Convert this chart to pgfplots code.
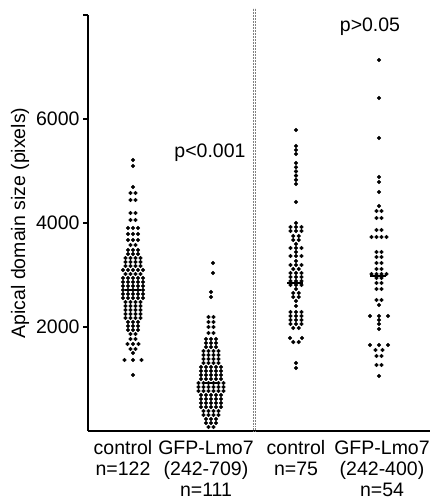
\documentclass[border=0pt]{standalone}
\usepackage{pgfplots}
\pgfplotsset{compat=1.18}
\usepackage{fontspec}
\setmainfont{Liberation Sans}
\newcommand\ff{\fontsize{19.5}{23.5}\selectfont}

\begin{document}
\begin{tikzpicture}
\useasboundingbox (-88pt,-71pt) rectangle (344pt,431pt);
\begin{axis}[
  scale only axis, width=342pt, height=416pt,
  xmin=88, xmax=430, ymin=0, ymax=8000,
  axis x line*=bottom, axis y line*=left,
  axis line style={line width=1.8pt},
  clip=false,
  xtick={123,206,296,382},
  xticklabels={{control\\n=122},{GFP-Lmo7\\(242-709)\\n=111},{control\\n=75},{GFP-Lmo7\\(242-400)\\n=54}},
  x tick style={draw=none},
  ytick={2000,4000,6000,8000},
  yticklabels={2000,4000,6000,{}},
  y tick style={line width=1.5pt,black},
  tick align=outside,
  major tick length=5pt,
  tick label style={font=\ff},
  x tick label style={align=center,yshift=-1pt,font=\fontsize{19.5}{21}\selectfont},
  label style={font=\ff},
  ylabel={Apical domain size (pixels)},
]
% separator
\draw[densely dotted,gray,line width=0.5pt] (axis cs:253.5,0) -- (axis cs:253.5,8135);
\draw[densely dotted,gray,line width=0.5pt] (axis cs:255.5,0) -- (axis cs:255.5,8135);

% control n=122
\addplot[only marks,mark=*,mark size=1.9pt,black] coordinates {
(133,5211) (133,5096) (133,4692)
(130.5,4577) (135.5,4577) (130.5,4442) (135.5,4442)
(130.5,4192) (135.5,4192) (130.5,4058) (135.5,4058)
(128,3904) (133,3904) (138,3904)
(128,3788) (133,3788) (138,3788)
(128,3673) (133,3673) (138,3673)
(130.5,3577) (135.5,3577)
(128,3481) (133,3481) (138,3481)
(128,3404) (133,3404) (138,3404)
(125.5,3327) (130.5,3327) (135.5,3327) (140.5,3327)
(125.5,3250) (130.5,3250) (135.5,3250) (140.5,3250)
(125.5,3173) (130.5,3173) (135.5,3173) (140.5,3173)
(123,3096) (128,3096) (133,3096) (138,3096) (143,3096)
(125.5,3019) (130.5,3019) (135.5,3019) (140.5,3019)
(123,2942) (128,2942) (133,2942) (138,2942) (143,2942)
(123,2865) (128,2865) (133,2865) (138,2865) (143,2865)
(123,2788) (128,2788) (133,2788) (138,2788) (143,2788)
(123,2711) (128,2711) (133,2711) (138,2711) (143,2711)
(123,2635) (128,2635) (133,2635) (138,2635) (143,2635)
(123,2558) (128,2558) (133,2558) (138,2558) (143,2558)
(125.5,2481) (130.5,2481) (135.5,2481) (140.5,2481)
(125.5,2404) (130.5,2404) (135.5,2404) (140.5,2404)
(125.5,2327) (130.5,2327) (135.5,2327) (140.5,2327)
(125.5,2250) (130.5,2250) (135.5,2250) (140.5,2250)
(125.5,2173) (130.5,2173) (135.5,2173) (140.5,2173)
(128,2096) (133,2096) (138,2096)
(128,2019) (133,2019) (138,2019)
(128,1942) (133,1942) (138,1942)
(130.5,1865) (135.5,1865) (130.5,1769) (135.5,1769)
(127.5,1673) (133,1673) (138.5,1673)
(130.5,1577) (135.5,1577) (133,1500)
(124.5,1365) (133,1365) (141.5,1365)
(133,1077)
};
% GFP-Lmo7 (242-709) n=111
\addplot[only marks,mark=*,mark size=1.9pt,black] coordinates {
(213,3231) (213,3038) (211,2673) (211,2577)
(208.5,2192) (213.5,2192) (208.5,2096) (213.5,2096)
(208.5,2000) (213.5,2000) (208.5,1885) (213.5,1885)
(206,1769) (211,1769) (216,1769)
(206,1692) (211,1692) (216,1692)
(206,1615) (211,1615) (216,1615)
(203.5,1538) (208.5,1538) (213.5,1538) (218.5,1538)
(203.5,1461) (208.5,1461) (213.5,1461) (218.5,1461)
(203.5,1385) (208.5,1385) (213.5,1385) (218.5,1385)
(203.5,1308) (208.5,1308) (213.5,1308) (218.5,1308)
(201,1231) (206,1231) (211,1231) (216,1231) (221,1231)
(201,1154) (206,1154) (211,1154) (216,1154) (221,1154)
(201,1077) (206,1077) (211,1077) (216,1077) (221,1077)
(201,1000) (206,1000) (211,1000) (216,1000) (221,1000)
(198.5,923) (203.5,923) (208.5,923) (213.5,923) (218.5,923) (223.5,923)
(198.5,846) (203.5,846) (208.5,846) (213.5,846) (218.5,846) (223.5,846)
(198.5,769) (203.5,769) (208.5,769) (213.5,769) (218.5,769) (223.5,769)
(201,692) (206,692) (211,692) (216,692) (221,692)
(201,615) (206,615) (211,615) (216,615) (221,615)
(201,538) (206,538) (211,538) (216,538) (221,538)
(201,462) (206,462) (211,462) (216,462) (221,462)
(203.5,385) (208.5,385) (213.5,385) (218.5,385)
(203.5,308) (208.5,308) (213.5,308) (218.5,308)
(206,231) (211,231) (216,231)
(206,154) (211,154) (216,154)
(208.5,77) (213.5,77)
};
% control n=75
\addplot[only marks,mark=*,mark size=1.9pt,black] coordinates {
(296,5788) (296,5481) (296,5404) (296,5327)
(296,5154) (296,5073) (296,4992) (296,4911) (296,4830) (296,4750)
(296,4404) (296,4000)
(290.5,3923) (296,3923) (301.5,3923)
(290.5,3846) (296,3846) (301.5,3846)
(293.3,3750) (298.7,3750) (293.3,3673) (298.7,3673)
(296,3596)
(290.5,3519) (296,3519) (301.5,3519)
(296,3442)
(290.5,3365) (296,3365) (301.5,3365)
(296,3269)
(290.5,3192) (296,3192) (301.5,3192)
(293.3,3115) (298.7,3115)
(290.5,3038) (296,3038) (301.5,3038)
(290.5,2962) (296,2962) (301.5,2962)
(290.5,2885) (296,2885) (301.5,2885)
(290.5,2808) (296,2808) (301.5,2808)
(296,2731)
(293.3,2654) (298.7,2654) (293.3,2577) (298.7,2577)
(296,2500) (296,2404)
(290.5,2288) (296,2288) (301.5,2288)
(290.5,2212) (296,2212) (301.5,2212)
(290.5,2135) (296,2135) (301.5,2135)
(290.5,2058) (296,2058) (301.5,2058)
(293.3,1981) (298.7,1981)
(290,1788) (302,1788) (293.3,1711) (298.7,1711)
(296,1308) (296,1212)
};
% GFP-Lmo7 (242-400) n=54
\addplot[only marks,mark=*,mark size=1.9pt,black] coordinates {
(379,7135) (379,6404) (379,5634) (379,4884) (379,4788) (379,4596) (379,4327)
(376.5,4231) (381.5,4231) (376.5,4096) (381.5,4096)
(376.5,3865) (381.5,3865)
(371.5,3731) (376.5,3731) (381.5,3731) (386.5,3731)
(376.5,3442) (381.5,3442) (376.5,3346) (381.5,3346)
(376.5,3231) (381.5,3231) (376.5,3115) (381.5,3115)
(371.5,3019) (376.5,3019) (381.5,3019) (386.5,3019)
(376.5,2942) (381.5,2942) (376.5,2846) (381.5,2846)
(376.5,2731) (381.5,2731) (376.5,2519) (381.5,2519)
(379,2423)
(370,2212) (379,2212) (388,2212)
(379,2135) (379,2058) (379,1962)
(370,1654) (379,1654) (388,1654)
(375.5,1558) (382.5,1558) (376.5,1442) (381.5,1442)
(376.5,1269) (381.5,1269)
(379,1058)
};
% median bars
\addplot[black,line width=2.5pt] coordinates {(125,2711) (141,2711)};
\addplot[black,line width=2.5pt] coordinates {(203,920) (219,920)};
\addplot[black,line width=2.5pt] coordinates {(287,2850) (303,2850)};
\addplot[black,line width=2.5pt] coordinates {(370,2980) (386,2980)};

\node[anchor=base,font=\ff] at (axis cs:210,5269) {p<0.001};
\node[anchor=base,font=\ff] at (axis cs:370,7692) {p>0.05};
\end{axis}
\end{tikzpicture}
\end{document}
